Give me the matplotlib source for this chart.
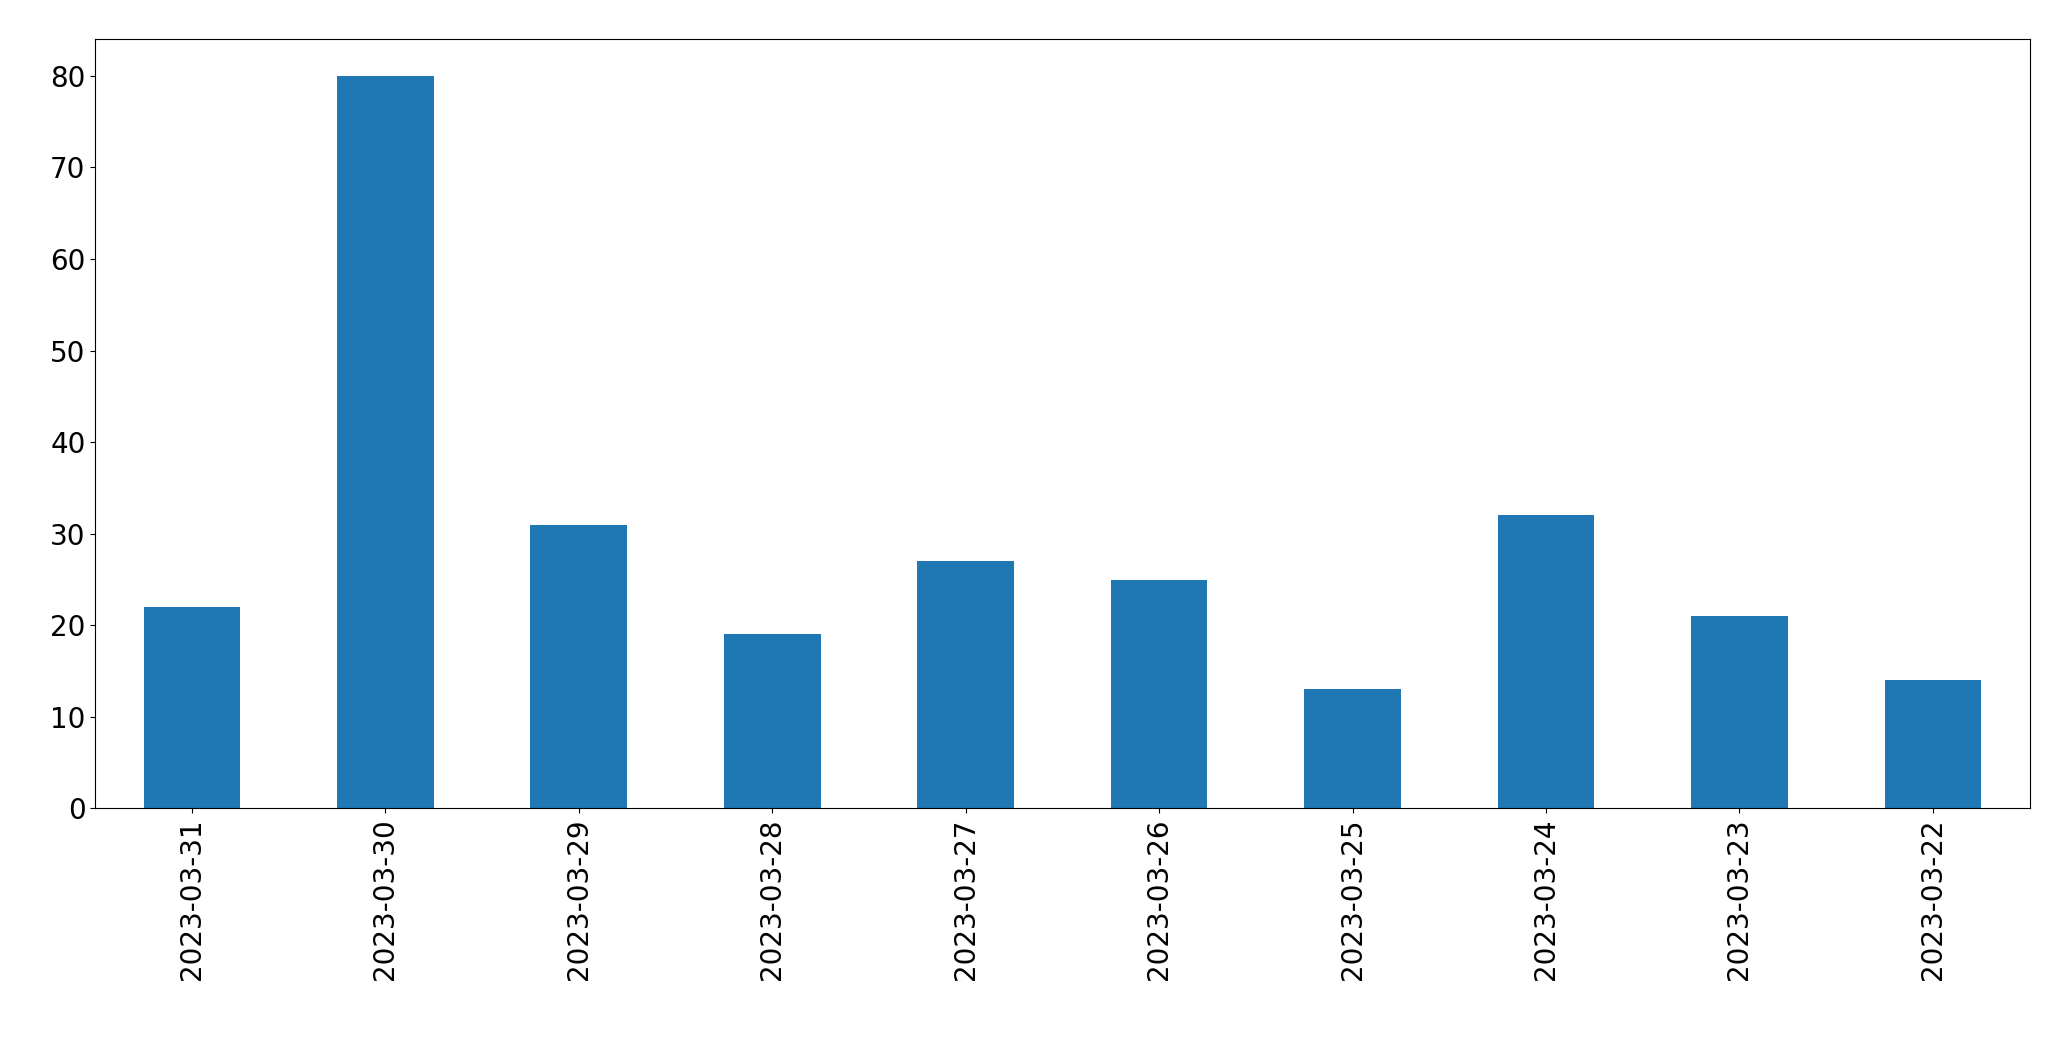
import matplotlib
matplotlib.use("Agg")
import matplotlib.pyplot as plt
import numpy as np

dates = ["2023-03-31", "2023-03-30", "2023-03-29", "2023-03-28", "2023-03-27",
         "2023-03-26", "2023-03-25", "2023-03-24", "2023-03-23", "2023-03-22"]
counts = [22, 80, 31, 19, 27, 25, 13, 32, 21, 14]

fig = plt.figure(figsize=(20.71, 10.61), dpi=100)
ax = fig.add_axes([0.046, 0.238, 0.934, 0.725])
x = np.arange(len(dates))
ax.bar(x, counts, width=0.5, color="#1f77b4")
ax.set_xticks(x)
ax.set_xticklabels(dates, rotation=90)
ax.set_xlim(-0.5, len(dates) - 0.5)
ax.tick_params(labelsize=20)
fig.savefig("out.png")
